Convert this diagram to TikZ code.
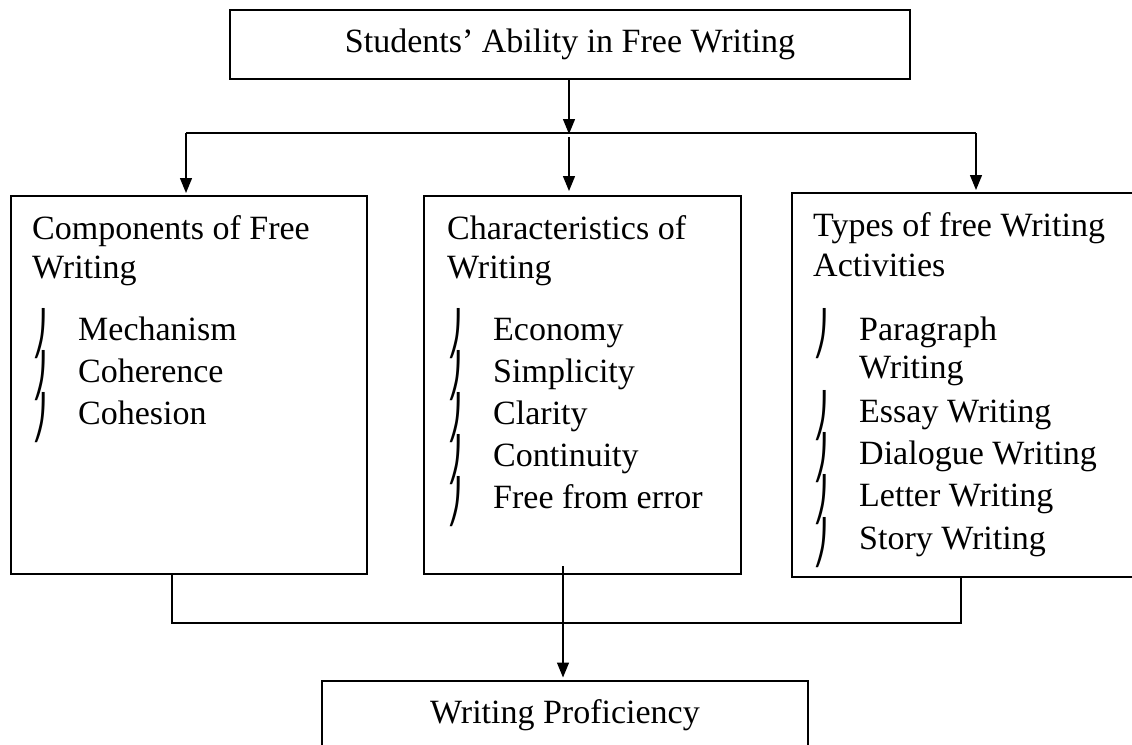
\documentclass[tikz,border=0pt]{standalone}
\usepackage{fontspec}
\setmainfont{Liberation Serif}
\newfontfamily\hookfont{DejaVu Sans}
\usepackage{tikz}
\usetikzlibrary{arrows.meta,positioning}
\newcommand{\hk}[0]{\smash{\raisebox{-8pt}{\scalebox{0.9}[1.25]{\hookfont ⎠}}}}
\newcommand{\itm}[1]{\makebox[46pt][l]{\hk}#1}

\begin{document}
\begin{tikzpicture}[x=1pt,y=-1pt,
    font=\fontsize{34}{42}\selectfont,
    box/.style={draw,line width=2pt,inner sep=0pt},
    txt/.style={anchor=base west,inner sep=0pt,text width=330pt,align=flush left},
    link/.style={line width=1.3pt},
    arr/.style={link,-{Triangle[length=15pt,width=12pt]},shorten >=2pt}]
    \useasboundingbox (0,0) rectangle (1132,744);
    \clip (0,0) rectangle (1132,744);
    % outcome boxes
    \node[box,minimum width=680pt,minimum height=69pt] (ability) at (570,44) {Students’ Ability in Free Writing};
    \node[box,minimum width=486pt,minimum height=69pt] (prof) at (565,715) {Writing Proficiency};
    % the three middle boxes
    \node[box,minimum width=356pt,minimum height=378pt] (comp) at (189,385) {};
    \node[box,minimum width=317pt,minimum height=378pt] (chars) at (582.5,385) {};
    \node[box,minimum width=368pt,minimum height=384pt] (types) at (976,385) {};
    \node[txt] (comptxt) at (32,239) {Components of Free\\[-3pt]
        Writing\\[20pt]
        \itm{Mechanism}\\
        \itm{Coherence}\\
        \itm{Cohesion}};
    \node[txt] (charstxt) at (447,239) {Characteristics of\\[-3pt]
        Writing\\[20pt]
        \itm{Economy}\\
        \itm{Simplicity}\\
        \itm{Clarity}\\
        \itm{Continuity}\\
        \itm{Free from error}};
    \node[txt] (typestxt) at (813,236) {Types of free Writing\\[-2pt]
        Activities\\[22pt]
        \itm{Paragraph}\\[-4pt]
        \hspace*{46pt}Writing\\[2pt]
        \itm{Essay Writing}\\
        \itm{Dialogue Writing}\\
        \itm{Letter Writing}\\[1pt]
        \itm{Story Writing}};
    % arrows from the top
    \coordinate (hub) at (569,133);
    \coordinate (ldrop) at (186,133);
    \coordinate (rdrop) at (976,133);
    \coordinate (mdrop) at (569,137);
    \draw[arr,shorten >=-1pt] (ability.south -| hub) -- (hub);
    \draw[link] (ldrop) -- (rdrop);
    \draw[arr] (ldrop) -- (ldrop |- comp.north);
    \draw[arr] (rdrop) -- (rdrop |- types.north);
    \draw[arr,shorten >=4pt] (mdrop) -- (mdrop |- chars.north);
    % joining to the bottom
    \coordinate (lup) at (172,623);
    \coordinate (rup) at (961,623);
    \coordinate (mstart) at (563,566);
    \draw[link] (lup |- comp.south) -- (lup) -- (rup) -- (rup |- types.south);
    \draw[arr] (mstart) -- (mstart |- prof.north);
\end{tikzpicture}
\end{document}
